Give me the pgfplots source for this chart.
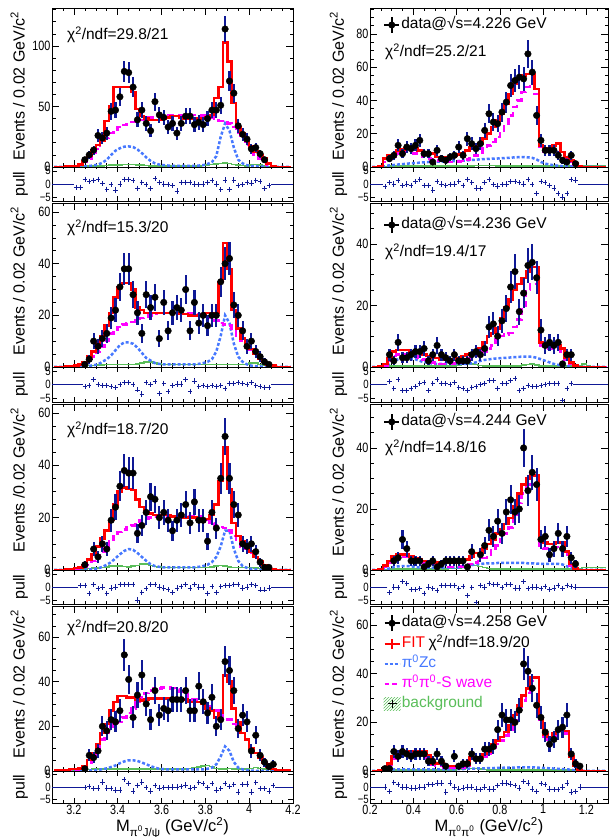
\documentclass[border=0pt]{standalone}
\usepackage{fontspec}
\setmainfont{Liberation Sans}
\newfontfamily\tickfont{Liberation Sans}[FakeStretch=0.8]
\usepackage{pgfplots}
\pgfplotsset{compat=1.18}
\usepackage{pgfplotstable}
\usetikzlibrary{patterns}
\definecolor{navy}{RGB}{15,25,150}
\definecolor{zcblue}{RGB}{70,120,255}
\definecolor{bkggreen}{RGB}{90,190,90}
\definecolor{mag}{RGB}{255,0,255}

% ---------------- LEFT 1 ----------------
\pgfplotstableread{
x f z s b p e
3.11 0 0 0 0 0 0
3.13 0 0 0 0 0 0
3.15 0 0 0 0 0 0
3.17 0.3 0 0.2 0.2 0 0
3.19 0.6 0 0.4 0.3 0 0
3.21 1 0 0.8 0.4 -1.2 1
3.23 2 0.3 1.5 0.5 -1.2 1
3.25 5 0.5 4 0.6 1.8 1
3.27 9 0.8 7 0.8 1.1 1
3.29 14 1.3 11 0.9 1.4 1
3.31 18 2 15 1 1.8 1
3.33 22 3.5 20 1 0.3 1
3.35 38 6 24 1.2 -2 1
3.37 50 10 28 1.5 -0.3 1
3.39 66 13.5 31 1.5 -2.3 1
3.41 66 15.5 33 1.8 0 1
3.43 66 16.8 34.5 2 1.8 1
3.45 66 17 35.5 2.2 1.8 1
3.47 62 16.5 37 2 1.4 1
3.49 48 14.5 38 1.8 -1.6 1
3.51 42 11.5 39 1.5 0.7 1
3.53 40 8 40 1.2 -0.3 1
3.55 39 5 41 1 -1.6 1
3.57 39 3 41.5 1 2 1
3.59 39 2 42 1 0.7 1
3.61 40 1.5 43 1 0 1
3.63 41 1.2 43 1 -0.3 1
3.65 42 1 43 1 -0.7 1
3.67 42 1 43 1 -2.7 1
3.69 41 1 43 1 0.7 1
3.71 40 1 43 1 0.7 1
3.73 40 1 43 1 0.7 1
3.75 40 1 43 1 0 1
3.77 40 1.2 43 1 -0.3 1
3.79 40 1.5 42.5 1.2 0 1
3.81 41 2.5 42 1.5 0.7 1
3.83 43 4 41 2 1.4 1
3.85 57 9 40 2.5 0 1
3.87 66 25 38 3 -2.2 1
3.89 103 36 37 3.5 1.5 1
3.91 87 30 36 3 -2.2 1
3.93 53 16 33 2 1.5 1
3.95 33 6 28 1.5 -0.5 1
3.97 28 3 23 1.2 -0.3 1
3.99 22 1.5 18 1 0.7 1
4.01 17 0.8 14 1.5 0.4 1
4.03 13 0.5 10 2 1.4 1
4.05 10 0.3 7 1.5 1.1 1
4.07 7 0.2 4 1 -1.6 1
4.09 3 0 2 0.5 -0.5 1
4.11 1 0 0.5 0.2 0 0
4.13 0 0 0 0 0 0
4.15 0 0 0 0 0 0
4.17 0 0 0 0 0 0
4.19 0 0 0 0 0 0
}\hLa
\pgfplotstableread{
x d
3.25 6
3.27 10
3.29 14
3.31 26
3.33 24
3.35 28
3.37 46
3.39 47
3.41 58
3.43 79
3.45 78
3.47 66
3.49 39
3.51 47
3.53 36
3.55 30
3.57 54
3.59 43
3.61 41
3.63 33
3.65 36
3.67 28
3.69 36
3.71 42
3.73 42
3.75 35
3.77 37
3.79 35
3.81 40
3.83 47
3.85 47
3.87 51
3.89 114
3.91 71
3.93 61
3.95 34
3.97 27
3.99 23
4.01 15
4.03 16
4.05 11
4.07 6
}\dLa

% ---------------- LEFT 2 ----------------
\pgfplotstableread{
x f z s b p e
3.11 0 0 0 0 0 0
3.13 0 0 0 0 0 0
3.15 0 0 0 0 0 0
3.17 0.2 0 0.1 0.1 0 0
3.19 0.4 0 0.2 0.2 0 0
3.21 0.6 0 0.4 0.2 0 0
3.23 1 0 0.7 0.3 0 0
3.25 2 0.2 1.2 0.4 -0.8 1
3.27 4 0.4 2.5 0.5 -0.5 1
3.29 6 0.7 4 0.6 1.8 1
3.31 9 1 6 0.7 0 1
3.33 12 2 8 0.8 -0.3 1
3.35 16 3 10 0.9 -0.4 1
3.37 21 4.5 13 1 -0.8 1
3.39 27 6.5 14.5 1 -1.2 1
3.41 31 8.5 15.5 1 0 1
3.43 32.5 9.5 16.5 1 0.7 1
3.45 32.5 9.5 17 1 0.7 1
3.47 30 9 17.5 1 0 1
3.49 23 7.5 18 1.2 -2 1
3.51 22 5.5 19 1.5 -3.5 1
3.53 21 3.5 19.5 2 0.7 1
3.55 21 2.5 20 2 0 1
3.57 21 1.5 20.5 1.5 1 1
3.59 21 1.2 21 1.2 -3.3 1
3.61 21 1 21 1 0.5 1
3.63 21 1 21 1 -2.7 1
3.65 21 1 21 1 -0.3 1
3.67 21 1 21 1 0.2 1
3.69 20.5 1 21 1 0.2 1
3.71 20.5 1 21 1 1.8 1
3.73 20 1 21 1 -2.5 1
3.75 20 1 21 1 1.3 1
3.77 20 1.2 20.5 1 -0.7 1
3.79 20 1.5 20 1 -0.5 1
3.81 21 2 19.5 1 -0.7 1
3.83 21 3 19 1 -0.5 1
3.85 21 6 18 1 -0.7 1
3.87 33 12 17 1 -0.5 1
3.89 48 20 16.5 1 -1.5 1
3.91 38 17 16 1 0.5 1
3.93 22 9 14 1 0.5 1
3.95 15 4 12 1 0.7 1
3.97 11 2 10 1 0.5 1
3.99 8 1 8 1 0 1
4.01 7 0.5 6.5 1.5 0.7 1
4.03 5 0.3 5 1.5 -0.3 1
4.05 3 0.2 3.5 1 -0.7 1
4.07 2 0.1 2 0.8 -1 1
4.09 1 0 1 0.5 -1 1
4.11 0.5 0 0.3 0.2 0 0
4.13 0 0 0 0 0 0
4.15 0 0 0 0 0 0
4.17 0 0 0 0 0 0
4.19 0 0 0 0 0 0
}\hLb
\pgfplotstableread{
x d
3.25 1
3.27 3
3.29 10
3.31 8
3.33 11
3.35 13
3.37 19
3.39 22
3.41 31
3.43 38
3.45 38
3.47 28
3.49 21
3.51 13
3.53 28
3.55 23
3.57 27
3.59 11
3.61 25
3.63 14
3.65 21
3.67 23
3.69 22
3.71 30
3.73 14
3.75 25
3.77 17
3.79 20
3.81 16
3.83 20
3.85 20
3.87 33
3.89 40
3.91 42
3.93 24
3.95 20
3.97 14
3.99 8
4.01 10
4.03 6
4.05 4
4.07 2
4.09 1
}\dLb

% ---------------- LEFT 3 ----------------
\pgfplotstableread{
x f z s b p e
3.11 0 0 0 0 0 0
3.13 0 0 0 0 0 0
3.15 0 0 0 0 0 0
3.17 0.2 0 0.1 0.1 0 0
3.19 0.4 0 0.3 0.2 0 0
3.21 0.7 0 0.5 0.2 0 0
3.23 1 0 0.8 0.3 0.5 1
3.25 2 0.1 1.2 0.4 0.7 1
3.27 4 0.2 2 0.5 -2.5 1
3.29 6 0.4 3.5 0.7 1 1
3.31 9 0.6 5 0.8 -0.7 1
3.33 12 1.2 7 1 0 1
3.35 15 2 9 1.2 -2.5 1
3.37 19 3 11 1.5 -0.4 1
3.39 25 4.5 13 1.5 0 1
3.41 30 6 14.5 1.5 1 1
3.43 31.5 7.3 15.5 1.3 1 1
3.45 31 8 16.5 1.2 1 1
3.47 30.5 7.7 17 1.5 1 1
3.49 27 6.5 18 1.8 -5 1
3.51 24 5 19 2.2 -2 1
3.53 22 3.5 19.5 2.2 -0.7 1
3.55 21.5 2.2 20 1.8 1 1
3.57 21 1.5 20.5 1.4 1 1
3.59 21 1.2 20.5 1.2 0 1
3.61 21 1 20.5 1 -0.4 1
3.63 21 1 20.5 1 -0.9 1
3.65 20.5 1 20.5 1 -2 1
3.67 20.5 1 20.5 1 -0.4 1
3.69 20 1 20.5 1 0.3 1
3.71 20 1 20.5 1 1 1
3.73 20 1 20.5 1 -0.4 1
3.75 20 1 20.5 1 1 1
3.77 19.5 1.2 20.5 1 0 1
3.79 19.5 1.5 20 1 0 1
3.81 19.5 2 19 1 -2.4 1
3.83 21 3 18 1.2 0.2 1
3.85 25 5 17 1.5 -2.2 1
3.87 34 9 16.5 1.8 0.2 1
3.89 47 15 16 1.5 0.6 1
3.91 31 15 15 1.2 0.7 1
3.93 18 8 13 1 1 1
3.95 13 3.5 11 1 1 1
3.97 11 1.5 9 1 -0.4 1
3.99 9 0.8 8 1 0 1
4.01 7 0.4 6.5 1 1 1
4.03 5 0.2 5 0.8 0.5 1
4.05 3.5 0.1 3.5 0.6 -1.1 1
4.07 2 0 2 0.4 -1.1 1
4.09 1 0 1 0.3 -0.4 1
4.11 0.3 0 0.3 0.1 0 0
4.13 0 0 0 0 0 0
4.15 0 0 0 0 0 0
4.17 0 0 0 0 0 0
4.19 0 0 0 0 0 0
}\hLc
\pgfplotstableread{
x d
3.25 2
3.29 8
3.31 5
3.33 10
3.35 8
3.37 19
3.39 24
3.41 32
3.43 38
3.45 37
3.47 37
3.49 14
3.51 17
3.53 22
3.55 28
3.57 27
3.59 20
3.61 22
3.63 19
3.65 15
3.67 19
3.69 21
3.71 25
3.73 18
3.75 26
3.77 19
3.79 19
3.81 11
3.83 22
3.85 16
3.87 35
3.89 51
3.91 35
3.93 25
3.95 21
3.97 10
3.99 9
4.01 10
4.03 7
4.05 3
4.07 1
4.09 1
}\dLc

% ---------------- LEFT 4 ----------------
\pgfplotstableread{
x f z s b p e
3.11 0.3 0 0.2 0.2 0 0
3.13 0.3 0 0.2 0.2 0 0
3.15 0.3 0 0.2 0.2 0 0
3.17 0.4 0 0.3 0.2 0 0
3.19 1 0 0.5 0.4 0 0
3.21 1 0 0.7 0.5 0 0
3.23 1.2 0 1 0.5 0 0
3.25 2 0.1 1.5 0.6 -0.3 1
3.27 5 0.2 3 0.7 0.3 1
3.29 8 0.3 6 0.8 -0.7 1
3.31 12 0.5 10 0.8 -0.4 1
3.33 17 0.8 14 0.9 2 1
3.35 21 1.2 17 1 -0.4 1
3.37 27 1.8 20 1 -0.5 1
3.39 31 2.5 21 1 -1.2 1
3.41 33.5 3.5 22 1 -1.2 1
3.43 33.5 4.3 24 1 3 1
3.45 33 4.8 26 1 1.5 1
3.47 33 4.8 28 1 -1.6 1
3.49 32 4.5 31 1 0.7 1
3.51 31.5 3.8 33 1 2 1
3.53 32 3 35 1 -0.3 1
3.55 32.5 2.2 36 1 -1.6 1
3.57 32.5 1.5 37 1 0.5 1
3.59 32.5 1 37 1 -0.4 1
3.61 32.5 0.8 37.3 1 -0.3 1
3.63 32.5 0.7 37.3 1 -0.3 1
3.65 32.5 0.7 37 1 0 1
3.67 32 0.7 36.5 1 0 1
3.69 32 0.7 35.5 1 0.3 1
3.71 32 0.7 34.5 1 0.8 1
3.73 31 0.7 33 1.2 -0.4 1
3.75 31 0.7 32 1.5 -0.3 1
3.77 31 0.7 31 1.8 1.8 1
3.79 30 0.7 30 2.2 1.4 1
3.81 28 1 29 2.5 -0.3 1
3.83 27 1.5 28 2 1.3 1
3.85 24 3 27 1.2 -1.2 1
3.87 26 6.5 25 1 -0.7 1
3.89 43 11 24 1 1.5 1
3.91 40 9 23 1.2 0.3 1
3.93 28 4 21 1 1 1
3.95 22 1.5 19 1 -2 1
3.97 17 0.7 16.5 1 1 1
3.99 14 0.4 14 1 1.2 1
4.01 10 0.2 11 1.2 -2 1
4.03 8 0.1 8 1.5 1.8 1
4.05 6 0 6 1.2 -0.5 1
4.07 3.5 0 4 1 -0.7 1
4.09 2 0 2 0.8 -1.6 1
4.11 1 0 1 0.5 0.5 1
4.13 0.3 0 0.3 0.3 0 0
4.15 0.3 0 0.3 0.3 0 0
4.17 0.3 0 0.2 0.2 0 0
4.19 0.3 0 0.2 0.2 0 0
}\hLd
\pgfplotstableread{
x d
3.25 1
3.27 7
3.29 6
3.31 9
3.33 20
3.35 18
3.37 23
3.39 22
3.41 27
3.43 52
3.45 41
3.47 24
3.49 34
3.51 43
3.53 30
3.55 23
3.57 36
3.59 25
3.61 28
3.63 27
3.65 32
3.67 32
3.69 32
3.71 36
3.73 27
3.75 27
3.77 38
3.79 31
3.81 26
3.83 33
3.85 20
3.87 23
3.89 49
3.91 45
3.93 36
3.95 19
3.97 25
3.99 22
4.01 9
4.03 16
4.05 7
4.07 4
4.09 2
4.11 3
}\dLd

% ---------------- RIGHT 1 ----------------
\pgfplotstableread{
x f z s b p e
0.21 0 0 0 0 0 0
0.23 0 0 0 0 0 0
0.25 0.5 0 0.3 0.2 0 0
0.27 5 0.5 3 0.4 -1 1
0.29 7 1 5 0.5 0.5 1
0.31 7 1.2 5.5 0.5 0 1
0.33 10 1.5 8 0.5 1.3 1
0.35 10.5 1.7 8.5 0.5 -0.7 1
0.37 11 2 9 0.5 0 1
0.39 11 2.2 8.5 0.5 -0.5 1
0.41 11 2.4 8 0.5 1 1
0.43 10 2.6 7.5 0.5 1.8 1
0.45 8 2.8 6 0.5 -0.7 1
0.47 8 3 5 0.5 -0.5 1
0.49 8 3 4.5 0.5 -2.3 1
0.51 6 3.2 4 0.5 1 1
0.53 6 3.2 3.5 0.5 0 1
0.55 6 3.3 3 0.5 -0.5 1
0.57 6 3.4 3 0.5 -0.2 1
0.59 7 3.5 3 0.5 0 1
0.61 7.5 3.6 3.2 0.5 1 1
0.63 8 3.8 3.5 0.5 -0.7 1
0.65 10 4 4.5 0.5 1.8 1
0.67 12 4.2 5.5 0.6 0.5 1
0.69 13 4.4 7 0.8 -1.5 1
0.71 14 4.6 8.5 1 -1.8 1
0.73 17 4.8 11 1 0.5 1
0.75 20 4.9 13 1 1.8 1
0.77 24 5 15 0.8 -0.2 1
0.79 28 5.1 18 0.6 -0.8 1
0.81 32 5.3 22 0.5 -0.2 1
0.83 38 5.4 26 0.5 0 1
0.85 44 5.6 31 0.5 1 1
0.87 50 5.8 36 0.5 1 1
0.89 53 5.9 40 0.5 0.5 1
0.91 55 6 45 0.5 0 1
0.93 56 5.8 48 0.5 1.8 1
0.95 56 5.5 50 0.5 -0.3 1
0.97 47 4.5 44 0.5 -3.5 1
0.99 13 3 12 0.5 1 1
1.01 11 2 9 0.5 0.5 1
1.03 11 1.5 9.5 0.5 -0.7 1
1.05 13 1 12 0.5 -1.5 1
1.07 14 0.8 14 0.5 -3.5 1
1.09 9 0.5 9 0.5 -5 1
1.11 6 0.4 5 0.5 -3.5 1
1.13 4 0.3 3 0.5 1.8 1
1.15 2 0.2 1.5 0.5 1.5 1
1.17 0.5 0 0.3 0.5 0 0
1.19 0 0 0 0.5 0 0
1.21 0 0 0 0.6 0 0
1.23 0 0 0 0.6 0 0
1.25 0 0 0 0.6 0 0
1.27 0 0 0 0.6 0 0
1.29 0 0 0 0.6 0 0
}\hRa
\pgfplotstableread{
x d
0.29 5
0.31 7
0.33 13
0.35 8
0.37 12
0.39 11
0.41 13
0.43 16
0.45 8
0.47 8
0.49 3
0.51 10
0.53 5
0.55 4
0.57 6
0.59 7
0.61 12
0.63 7
0.65 17
0.67 14
0.69 11
0.71 14
0.73 22
0.75 32
0.77 27
0.79 26
0.81 33
0.83 39
0.85 49
0.87 52
0.89 54
0.91 53
0.93 68
0.95 57
0.97 31
0.99 16
1.01 10
1.03 10
1.05 10
1.07 7
1.09 4
1.11 3
1.13 7
1.15 2
}\dRa

% ---------------- RIGHT 2 ----------------
\pgfplotstableread{
x f z s b p e
0.21 0 0 0 0 0 0
0.23 0 0 0 0 0 0
0.25 0.3 0 0.2 0.1 0 0
0.27 1 0.5 0.5 0.2 0 0
0.29 3 1 2 0.3 1 1
0.31 5 2 3.5 0.3 -1.5 1
0.33 5.5 2.5 4 0.3 1.8 1
0.35 5.5 3 4 0.3 -2.3 1
0.37 5.5 3 4 0.3 -2.3 1
0.39 5 2.5 4 0.3 -1.5 1
0.41 5 2.5 3.5 0.3 -0.8 1
0.43 4.5 2 3 0.3 0.5 1
0.45 4 1.5 2.5 0.3 0.8 1
0.47 3.5 1.5 2 0.3 -2.3 1
0.49 3 1 1.5 0.3 0.5 1
0.51 3 1 1.2 0.3 1.8 1
0.53 2.5 1 1 0.3 0.5 1
0.55 2.5 1 1 0.3 0.5 1
0.57 2 1 1 0.3 0 1
0.59 2.5 1 1.2 0.4 0.8 1
0.61 3 1 1.5 0.6 -1.2 1
0.63 3.5 1 2 0.8 -1.5 1
0.65 4 1 2.5 1 -2.3 1
0.67 4.5 1.2 3 1 -1 1
0.69 5 1.5 3.5 0.8 -0.8 1
0.71 6 2 4 0.5 0 1
0.73 8 2.3 5 0.3 0.5 1
0.75 10 2.5 6 0.3 1.5 1
0.77 11 2.7 7 0.3 1.5 1
0.79 12.5 2.8 9 0.3 -1.5 1
0.81 16 2.9 10 0.3 0.3 1
0.83 19.5 3 10.5 0.3 0.5 1
0.85 22 3.1 11 0.3 1.5 1
0.87 25 3.2 13 0.3 2.3 1
0.89 27 3.3 15.5 0.4 -2.3 1
0.91 29 3.4 20 0.6 -1.5 1
0.93 31 3.4 25 0.8 -0.3 1
0.95 32.5 3.3 27 1 -0.8 1
0.97 32.5 3 27 0.6 -0.8 1
0.99 8 2.5 7 0.3 -0.3 1
1.01 7 2 6 0.3 0 1
1.03 7 1.5 6 0.3 0.5 1
1.05 7 1 6 0.3 0.3 1
1.07 7 0.7 6 0.3 0.5 1
1.09 6 0.4 5 0.3 -6 1
1.11 3 0.2 2.5 0.3 -1.5 1
1.13 1.5 0.1 1 0.3 0.5 1
1.15 0.5 0 0.3 0.3 0 0
1.17 0 0 0 0.5 0 0
1.19 0 0 0 1 0 0
1.21 0 0 0 0.5 0 0
1.23 0 0 0 0.2 0 0
1.25 0 0 0 0.2 0 0
1.27 0 0 0 0.2 0 0
1.29 0 0 0 0.2 0 0
}\hRb
\pgfplotstableread{
x d
0.29 4
0.31 2
0.33 8
0.35 3
0.37 3
0.39 4
0.41 5
0.43 5
0.45 6
0.47 2
0.49 4
0.51 7
0.53 4
0.55 3
0.57 2
0.59 4
0.61 2
0.63 2
0.65 2
0.67 4
0.69 5
0.71 4
0.73 6
0.75 13
0.77 14
0.79 10
0.81 15
0.83 19
0.85 26
0.87 31
0.89 18
0.91 24
0.93 33
0.95 34
0.97 29
0.99 12
1.01 7
1.03 8
1.05 7
1.07 8
1.09 1
1.11 4
1.13 4
}\dRb

% ---------------- RIGHT 3 ----------------
\pgfplotstableread{
x f z s b p e
0.21 0 0 0 0 0 0
0.23 0 0 0 0 0 0
0.25 0.3 0 0.2 0.1 0 0
0.27 1.5 0.3 1 0.2 0 0
0.29 3 0.5 2.5 0.3 -2 1
0.31 4.5 1 3.5 0.3 0 1
0.33 5 1.2 4 0.3 -0.3 1
0.35 5 1.3 4.5 0.3 2 1
0.37 5 1.3 4.5 0.3 1.3 1
0.39 4.5 1.2 4 0.3 -1 1
0.41 4 1 3.5 0.3 -1 1
0.43 3.5 0.8 3 0.3 -0.7 1
0.45 3 0.8 2.5 0.3 -2.4 1
0.47 3 0.8 2 0.3 0 1
0.49 2.5 0.8 2 0.3 -0.7 1
0.51 2.5 0.8 1.5 0.3 -1.2 1
0.53 2.5 0.8 1.2 0.3 0.7 1
0.55 2.5 0.8 1 0.4 0.7 1
0.57 2.5 0.8 1 0.5 0.7 1
0.59 2.5 0.8 1 0.5 0.7 1
0.61 2.5 0.8 1 0.5 -0.7 1
0.63 3 1 1.2 0.8 0.3 1
0.65 3.5 1.3 1.5 1.2 -3.3 1
0.67 4.5 1.6 2 1.5 -0.3 1
0.69 5.5 1.9 2.5 1.5 -6 1
0.71 5.5 2 3 1.2 0.7 1
0.73 7 2.1 4 0.8 0 1
0.75 8.5 2.2 5 0.5 1.3 1
0.77 10 2.2 6.5 0.4 1 1
0.79 12 2.3 8 0.3 1 1
0.81 13.5 2.3 10 0.3 -0.3 1
0.83 15 2.3 12 0.3 0.9 1
0.85 17 2.3 14 0.3 0.9 1
0.87 21 2.3 18 0.3 -0.4 1
0.89 25 2.3 22 0.3 -0.4 1
0.91 28 2.3 25 0.3 2 1
0.93 30 2.2 27 0.3 -0.7 1
0.95 31 2.2 28 0.3 0 1
0.97 31 2.1 28 0.3 0 1
0.99 10 2 8 0.3 -0.7 1
1.01 9 2 7 0.3 0.3 1
1.03 8.5 2 7 0.3 -1 1
1.05 8.5 2 7 0.3 -0.4 1
1.07 9 2 7.5 0.3 0.7 1
1.09 9 1.8 7.5 0.3 -0.7 1
1.11 6 1.2 5 0.3 0.7 1
1.13 2 0.6 1.5 0.3 0.3 1
1.15 0.5 0.3 0.3 0.3 0 1
1.17 0 0 0 0.5 0 0
1.19 0 0 0 0.8 0 0
1.21 0 0 0 0.8 0 0
1.23 0 0 0 0.8 0 0
1.25 0 0 0 0.8 0 0
1.27 0 0 0 0.8 0 0
1.29 0 0 0 0.8 0 0
}\hRc
\pgfplotstableread{
x d
0.31 3
0.33 4
0.35 10
0.37 7
0.39 3
0.41 3
0.43 3
0.45 1
0.47 2
0.49 3
0.51 1
0.53 2
0.55 3
0.57 3
0.59 3
0.61 3
0.63 3
0.65 1
0.67 6
0.71 5
0.73 8
0.75 13
0.77 11
0.79 16
0.81 12
0.83 19
0.85 23
0.87 19
0.89 20
0.91 40
0.93 26
0.95 32
0.97 28
0.99 10
1.01 11
1.03 5
1.05 7
1.07 12
1.09 7
1.11 11
1.13 4
1.15 2
}\dRc

% ---------------- RIGHT 4 ----------------
\pgfplotstableread{
x f z s b p e
0.21 0 0 0 0 0 0
0.23 0 0 0 0 0 0
0.25 0.2 0 0.1 0.1 0 0
0.27 1.5 0.3 1 0.3 0 1
0.29 3 0.5 2.5 0.4 -1.7 1
0.31 6 0.7 5 0.5 1.9 1
0.33 8.2 0.7 7.2 0.5 0.9 1
0.35 8.2 0.7 7.5 0.5 0 1
0.37 8.2 0.7 7.5 0.5 0 1
0.39 8.2 0.7 7.3 0.5 -0.4 1
0.41 8.2 0.7 7.3 0.5 -0.4 1
0.43 8.2 0.7 7.3 0.5 0 1
0.45 8.2 0.7 7 0.5 0 1
0.47 6.4 0.7 5.5 0.5 0.9 1
0.49 3 0.7 2.5 0.5 0.9 1
0.51 3 0.7 2.2 0.5 1.6 1
0.53 3 0.7 2 0.5 1.6 1
0.55 2 0.7 1.5 0.5 -2 1
0.57 2 0.7 1.3 0.5 1.6 1
0.59 2 0.7 1.3 0.5 0 1
0.61 2 0.8 1.3 0.6 -0.8 1
0.63 2 0.8 1.3 0.8 -0.4 1
0.65 2.5 0.9 1.8 1 0 1
0.67 5.5 1 4 1 0 1
0.69 5.7 1 4.5 1 -0.8 1
0.71 5.7 1.1 4.5 0.8 -1.1 1
0.73 7 1.1 6 0.6 0 1
0.75 7.8 1.2 7 0.5 -0.8 1
0.77 11 1.2 9.5 0.5 -0.8 1
0.79 12.5 1.3 11 0.5 0.5 1
0.81 14 1.3 12.5 0.5 1.6 1
0.83 16 1.4 14.5 0.5 1.6 1
0.85 19 1.4 17 0.5 1.2 1
0.87 23 1.4 21 0.5 0.5 1
0.89 27 1.5 25 0.5 -0.4 1
0.91 31 1.5 29 0.5 2.3 1
0.93 34 1.5 32 0.5 1.6 1
0.95 38.5 1.5 37 0.5 -0.8 1
0.97 38.5 1.4 37 0.5 -1.7 1
0.99 22 1.3 21 0.5 1.3 1
1.01 15 1.2 14 0.5 0.9 1
1.03 14 1.1 13 0.5 -0.8 1
1.05 15.5 1 14.5 0.5 -1.1 1
1.07 16.5 0.9 15.5 0.5 -1.1 1
1.09 16.5 0.8 15.5 0.5 0 1
1.11 16.5 0.7 15.5 0.5 1.6 1
1.13 6 0.5 5.5 0.4 -2 1
1.15 2.3 0.3 2 0.3 -1.7 1
1.17 0.5 0.1 0.3 0.2 0 1
1.19 0 0 0 0.1 0 0
1.21 0 0 0 0 0 0
1.23 0 0 0 0 0 0
1.25 0 0 0 0 0 0
1.27 0 0 0 0 0 0
1.29 0 0 0 0 0 0
}\hRd
\pgfplotstableread{
x d
0.27 1
0.29 1
0.31 8
0.33 6
0.35 8
0.37 7
0.39 6
0.41 7
0.43 7
0.45 7
0.47 4
0.49 4
0.51 7
0.53 4
0.55 2
0.59 6
0.61 2
0.63 3
0.65 3
0.67 7
0.69 5
0.71 5
0.73 9
0.75 9
0.77 10
0.79 17
0.81 23
0.83 21
0.85 21
0.87 20
0.89 25
0.91 44
0.93 41
0.95 34
0.97 27
0.99 22
1.01 16
1.03 11
1.05 13
1.07 17
1.09 18
1.11 23
1.13 7
1.15 3
1.17 2
}\dRd

\pgfplotsset{
  base/.style={scale only axis, anchor=south west, tick align=inside,
    major tick length=7pt, minor tick length=3.5pt,
    tick style={black, line width=0.6pt}, axis line style={line width=0.8pt},
    tick label style={font=\fontsize{13.5}{14}\tickfont, inner sep=1.5pt},
    /pgf/number format/assume math mode=true, xticklabels={}, ymin=0},
  Lx/.style={width=241pt, xmin=3.1, xmax=4.2, xtick={3.2,3.4,3.6,3.8,4.0,4.2},
    minor xtick={3.15,3.25,3.3,3.35,3.45,3.5,3.55,3.65,3.7,3.75,3.85,3.9,3.95,4.05,4.1,4.15}},
  Rx/.style={width=238pt, xmin=0.2, xmax=1.3, xtick={0.2,0.4,0.6,0.8,1.0,1.2},
    minor xtick={0.25,0.3,0.35,0.45,0.5,0.55,0.65,0.7,0.75,0.85,0.9,0.95,1.05,1.1,1.15,1.25}},
  mainax/.style={base, ylabel={Events / 0.02 GeV/c\textsuperscript{2}},
    ylabel style={font=\fontsize{16}{18}\selectfont, at={(axis description cs:#1,1)}, anchor=base east}},
  pullax/.style={base, ymin=-6.5, ymax=6.5, ytick={-5,0,5}, yticklabels={−5,0,5},
    major tick length=5pt, minor tick length=2.5pt,
    yticklabel style={font=\fontsize{12}{12}\tickfont, inner sep=1pt},
    ylabel={pull}, ylabel style={font=\fontsize{16}{18}\selectfont, at={(axis description cs:#1,0.5)}, anchor=base},
    axis background/.style={fill=white}},
  leg/.style={legend cell align=left, legend style={draw=none, fill=none,
    font=\fontsize{15.5}{17}\selectfont, inner sep=0pt, row sep=3.5pt,
    nodes={inner sep=1pt, text height=11pt, text depth=3.5pt},
    /tikz/every even column/.append style={column sep=0pt}}},
}
\tikzset{chi/.style={anchor=west, inner sep=0pt, font=\fontsize{15.5}{17}\selectfont}}

\newcommand{\mainplots}[2]{%
  \addplot[forget plot, bkggreen, line width=1.5pt, const plot mark mid] table[x=x,y=b]{#1};
  \addplot[forget plot, zcblue, line width=2.5pt, dash pattern=on 3pt off 2pt] table[x=x,y=z]{#1};
  \addplot[forget plot, mag, line width=2.5pt, dash pattern=on 7pt off 4pt, const plot mark mid] table[x=x,y=s]{#1};
  \addplot[forget plot, red, line width=2.5pt, const plot mark mid] table[x=x,y=f]{#1};
  \addplot[forget plot, navy, only marks, mark=none, error bars/.cd, y dir=both, y explicit,
    error bar style={navy, line width=2.2pt}, error mark=none]
    table[x=x, y=d, y error expr=sqrt(\thisrow{d})]{#2};
  \addplot[forget plot, only marks, mark=*, mark size=3.3pt, black] table[x=x,y=d]{#2};
}
\newcommand{\pullplot}[1]{%
  \addplot[forget plot, navy, only marks, mark=+, mark size=2.6pt,
    mark options={xscale=0.84, line width=0.7pt},
    restrict expr to domain={\thisrow{e}}{0.5:2}] table[x=x, y=p]{#1};
  \addplot[forget plot, navy, only marks, mark=-, mark size=2.6pt,
    mark options={xscale=0.84, line width=0.7pt},
    restrict expr to domain={\thisrow{e}}{-0.5:0.5}] table[x=x, y expr=0]{#1};
}
\newcommand{\dataimg}{%
  \draw[black,line width=1.6pt] (1pt,0pt)--(16pt,0pt);
  \draw[black,line width=1.6pt] (8.5pt,-8pt)--(8.5pt,8pt);
  \fill[black,draw=none] (8.5pt,0pt) circle (3.5pt);
  \path[draw=none,fill=none] (0pt,-8pt) rectangle (17pt,8pt);}

\begin{document}
\begin{tikzpicture}
\useasboundingbox (0,0) rectangle (609pt,837pt);

% ===== Row 1 =====
\begin{axis}[mainax=-0.114, Lx, at={(52pt,670pt)}, height=159pt, ymax=131.4,
  ytick={0,50,100}, minor ytick={10,20,30,40,60,70,80,90,110,120,130}]
  \mainplots{\hLa}{\dLa}
  \node[chi] at (axis description cs:0.062,0.83) {χ\textsuperscript{2}/ndf=29.8/21};
\end{axis}
\begin{axis}[pullax=-0.114, Lx, at={(52pt,636pt)}, height=34pt]
  \pullplot{\hLa}
\end{axis}
\begin{axis}[mainax=-0.11, Rx, at={(370pt,670pt)}, height=159pt, ymax=95.6,
  ytick={0,20,40,60,80}, minor ytick={5,10,15,25,30,35,45,50,55,65,70,75,85,90,95}, leg,
  legend style={at={(axis description cs:0.055,0.893)}, anchor=west}]
  \mainplots{\hRa}{\dRa}
  \addlegendimage{legend image code/.code={\dataimg}}
  \addlegendentry{data@√s=4.226 GeV}
  \node[chi] at (axis description cs:0.063,0.723) {χ\textsuperscript{2}/ndf=25.2/21};
\end{axis}
\begin{axis}[pullax=-0.11, Rx, at={(370pt,636pt)}, height=34pt]
  \pullplot{\hRa}
\end{axis}

% ===== Row 2 =====
\begin{axis}[mainax=-0.114, Lx, at={(52pt,470pt)}, height=164pt, ymax=63.5,
  ytick={0,20,40,60}, minor ytick={5,10,15,25,30,35,45,50,55}]
  \mainplots{\hLb}{\dLb}
  \node[chi] at (axis description cs:0.062,0.848) {χ\textsuperscript{2}/ndf=15.3/20};
\end{axis}
\begin{axis}[pullax=-0.114, Lx, at={(52pt,435pt)}, height=35pt]
  \pullplot{\hLb}
\end{axis}
\begin{axis}[mainax=-0.11, Rx, at={(370pt,470pt)}, height=164pt, ymax=53.3,
  ytick={0,20,40}, minor ytick={5,10,15,25,30,35,45,50}, leg,
  legend style={at={(axis description cs:0.055,0.866)}, anchor=west}]
  \mainplots{\hRb}{\dRb}
  \addlegendimage{legend image code/.code={\dataimg}}
  \addlegendentry{data@√s=4.236 GeV}
  \node[chi] at (axis description cs:0.063,0.70) {χ\textsuperscript{2}/ndf=19.4/17};
\end{axis}
\begin{axis}[pullax=-0.11, Rx, at={(370pt,435pt)}, height=35pt]
  \pullplot{\hRb}
\end{axis}

% ===== Row 3 =====
\begin{axis}[mainax=-0.114, Lx, at={(52pt,267pt)}, height=166pt, ymax=63.4,
  ytick={0,20,40,60}, minor ytick={5,10,15,25,30,35,45,50,55}, ylabel={Events /0.02 GeV/c\textsuperscript{2}}]
  \mainplots{\hLc}{\dLc}
  \node[chi] at (axis description cs:0.062,0.843) {χ\textsuperscript{2}/ndf=18.7/20};
\end{axis}
\begin{axis}[pullax=-0.114, Lx, at={(52pt,233pt)}, height=34pt]
  \pullplot{\hLc}
\end{axis}
\begin{axis}[mainax=-0.11, Rx, at={(370pt,267pt)}, height=166pt, ymax=54.4,
  ytick={0,20,40}, minor ytick={5,10,15,25,30,35,45,50}, leg,
  legend style={at={(axis description cs:0.055,0.892)}, anchor=west}]
  \mainplots{\hRc}{\dRc}
  \addlegendimage{legend image code/.code={\dataimg}}
  \addlegendentry{data@√s=4.244 GeV}
  \node[chi] at (axis description cs:0.063,0.735) {χ\textsuperscript{2}/ndf=14.8/16};
\end{axis}
\begin{axis}[pullax=-0.11, Rx, at={(370pt,233pt)}, height=34pt]
  \pullplot{\hRc}
\end{axis}

% ===== Row 4 =====
\begin{axis}[mainax=-0.114, Lx, at={(52pt,66pt)}, height=165pt, ymax=73.9,
  ytick={0,20,40,60}, minor ytick={5,10,15,25,30,35,45,50,55,65,70}]
  \mainplots{\hLd}{\dLd}
  \node[chi] at (axis description cs:0.062,0.867) {χ\textsuperscript{2}/ndf=20.8/20};
\end{axis}
\begin{axis}[pullax=-0.114, Lx, at={(52pt,34pt)}, height=32pt,
  xticklabels={3.2,3.4,3.6,3.8,4,4.2},
  xlabel={M\textsubscript{π\textsuperscript{0}J/ψ} (GeV/c\textsuperscript{2})},
  xlabel style={font=\fontsize{16.5}{18}\selectfont, at={(axis description cs:0.5,-0.906)}, anchor=base}]
  \pullplot{\hLd}
\end{axis}
\begin{axis}[mainax=-0.11, Rx, at={(370pt,66pt)}, height=165pt, ymax=67.8,
  ytick={0,20,40,60}, minor ytick={5,10,15,25,30,35,45,50,55,65}, leg,
  legend style={at={(axis description cs:0.055,0.95)}, anchor=north west}]
  \mainplots{\hRd}{\dRd}
  \addlegendimage{legend image code/.code={\dataimg}}
  \addlegendentry{data@√s=4.258 GeV}
  \addlegendimage{legend image code/.code={%
    \draw[red,line width=2.5pt] (1pt,0pt)--(16pt,0pt);
    \draw[red,line width=2.5pt] (8.5pt,-5pt)--(8.5pt,5pt);
    \path[draw=none,fill=none] (0pt,-8pt) rectangle (17pt,8pt);}}
  \addlegendentry{\textcolor{red}{FIT}}
  \addlegendimage{legend image code/.code={%
    \draw[zcblue,line width=2.5pt,dash pattern=on 3pt off 2pt] (1pt,0pt)--(16pt,0pt);
    \path[draw=none,fill=none] (0pt,-8pt) rectangle (17pt,8pt);}}
  \addlegendentry{\textcolor{zcblue}{π\textsuperscript{0}Zc}}
  \addlegendimage{legend image code/.code={%
    \draw[mag,line width=2.5pt,dash pattern=on 4.5pt off 3pt] (1pt,0pt)--(16pt,0pt);
    \path[draw=none,fill=none] (0pt,-8pt) rectangle (17pt,8pt);}}
  \addlegendentry{\textcolor{mag}{π\textsuperscript{0}π\textsuperscript{0}-S wave}}
  \addlegendimage{legend image code/.code={%
    \fill[draw=none, pattern=north east lines, pattern color=bkggreen] (0pt,-6.5pt) rectangle (17pt,6.5pt);
    \draw[black,line width=0.6pt] (4pt,0pt)--(13pt,0pt) (8.5pt,-4pt)--(8.5pt,4pt);
    \path[draw=none,fill=none] (0pt,-8pt) rectangle (17pt,8pt);}}
  \addlegendentry{\textcolor{bkggreen}{background}}
  \node[chi] at (axis description cs:0.245,0.776) {χ\textsuperscript{2}/ndf=18.9/20};
\end{axis}
\begin{axis}[pullax=-0.11, Rx, at={(370pt,34pt)}, height=32pt,
  xticklabels={0.2,0.4,0.6,0.8,1,1.2},
  xlabel={M\textsubscript{π\textsuperscript{0}π\textsuperscript{0}} (GeV/c\textsuperscript{2})},
  xlabel style={font=\fontsize{16.5}{18}\selectfont, at={(axis description cs:0.5,-0.906)}, anchor=base}]
  \pullplot{\hRd}
\end{axis}
\end{tikzpicture}
\end{document}
